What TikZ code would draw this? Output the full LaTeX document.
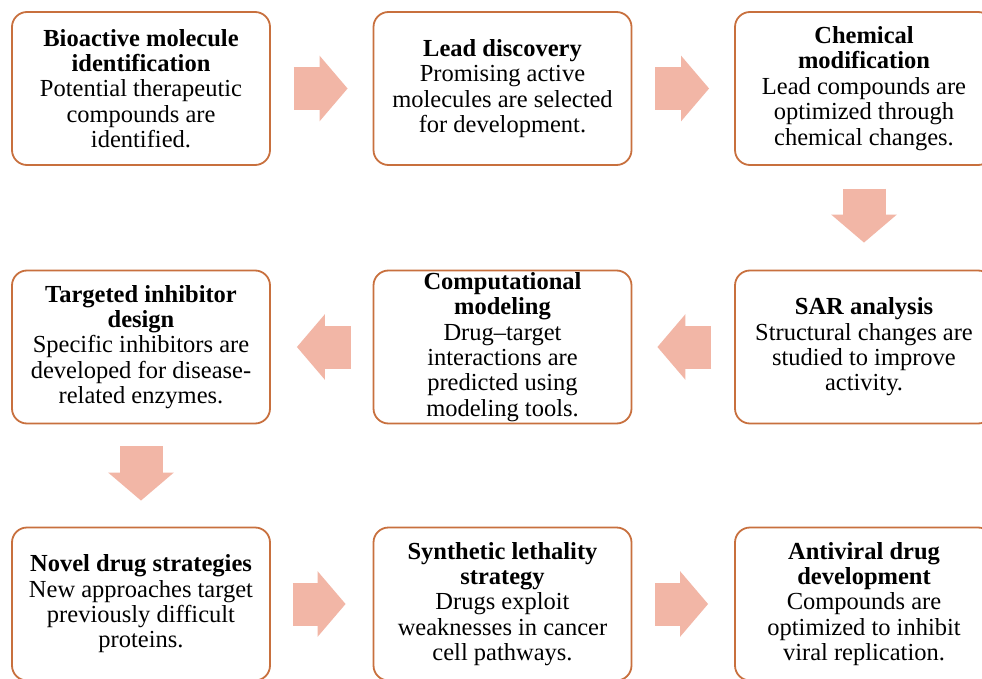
\documentclass[tikz,border=0pt]{standalone}
\usepackage{fontspec}
\setmainfont{Liberation Serif}
\usetikzlibrary{arrows.meta}
\definecolor{boxline}{RGB}{200,112,62}
\definecolor{arrowfill}{RGB}{242,182,166}
\tikzset{
    stagebox/.style={shape=rectangle,rounded corners=15pt,draw=boxline,line width=1.8pt,
        fill=white,minimum width=258pt,minimum height=153pt,inner sep=1pt,align=center,
        font=\fontsize{24.5}{25.4}\selectfont},
    bigarrow/.style={draw=arrowfill,line width=43pt,
        -{Triangle[length=28pt,width=64pt,color=arrowfill]}}
}
\begin{document}
\begin{tikzpicture}[x=1pt,y=-1pt]
    \fill[white] (0,0) rectangle (982,679);
    \useasboundingbox (0,0) rectangle (982,679);

    \node[stagebox] (A) at (141,88.5) {\textbf{Bioactive molecule}\\ \textbf{identification}\\ Potential therapeutic\\ compounds are\\ identified.};
    \node[stagebox] (B) at (502.5,88.5) {\textbf{Lead discovery}\\ Promising active\\ molecules are selected\\ for development.};
    \node[stagebox] (C) at (864,88.5) {\textbf{Chemical}\\ \textbf{modification}\\ Lead compounds are\\ optimized through\\ chemical changes.};
    \node[stagebox] (D) at (864,347) {\textbf{SAR analysis}\\ Structural changes are\\ studied to improve\\ activity.};
    \node[stagebox] (E) at (502.5,347) {\textbf{Computational}\\ \textbf{modeling}\\ Drug--target\\ interactions are\\ predicted using\\ modeling tools.};
    \node[stagebox] (F) at (141,347) {\textbf{Targeted inhibitor}\\ \textbf{design}\\ Specific inhibitors are\\ developed for disease-\\ related enzymes.};
    \node[stagebox] (G) at (141,604) {\textbf{Novel drug strategies}\\ New approaches target\\ previously difficult\\ proteins.};
    \node[stagebox] (H) at (502.5,604) {\textbf{Synthetic lethality}\\ \textbf{strategy}\\ Drugs exploit\\ weaknesses in cancer\\ cell pathways.};
    \node[stagebox] (I) at (864,604) {\textbf{Antiviral drug}\\ \textbf{development}\\ Compounds are\\ optimized to inhibit\\ viral replication.};

    \path [bigarrow,shorten <=23pt,shorten >=25pt](A) edge (B);
    \path [bigarrow,shorten <=23pt,shorten >=25pt](B) edge (C);
    \path [bigarrow,shorten <=23pt,shorten >=27pt](C) edge (D);
    \path [bigarrow,shorten <=23pt,shorten >=25pt](D) edge (E);
    \path [bigarrow,shorten <=22pt,shorten >=26pt](E) edge (F);
    \path [bigarrow,shorten <=22pt,shorten >=26pt](F) edge (G);
    \path [bigarrow,shorten <=22pt,shorten >=27pt](G) edge (H);
    \path [bigarrow,shorten <=23pt,shorten >=26pt](H) edge (I);

\end{tikzpicture}
\end{document}
